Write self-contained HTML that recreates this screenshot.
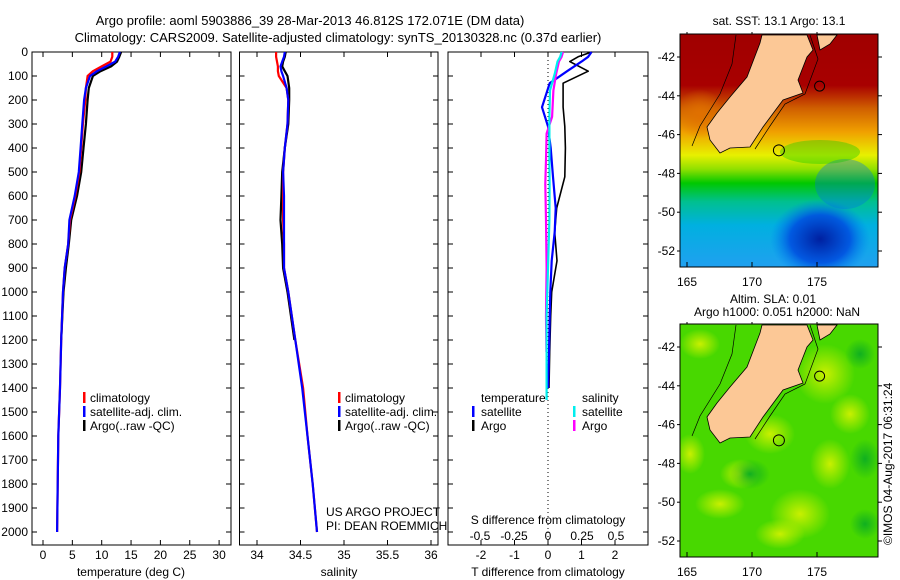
<!DOCTYPE html>
<html><head><meta charset="utf-8"><style>
html,body{margin:0;padding:0;background:#fff;}
svg{display:block;font-family:"Liberation Sans",sans-serif;}
text{font-size:12px;fill:#000;}
</style></head><body>
<svg id="fig" width="900" height="580" viewBox="0 0 900 580">
<defs>
<linearGradient id="sstGrad" x1="0" y1="0" x2="0" y2="1">
<stop offset="0" stop-color="#a00000"/><stop offset="0.22" stop-color="#a80000"/>
<stop offset="0.32" stop-color="#d06000"/><stop offset="0.42" stop-color="#f0a000"/>
<stop offset="0.52" stop-color="#e8f000"/><stop offset="0.58" stop-color="#90e000"/>
<stop offset="0.64" stop-color="#00c800"/><stop offset="0.72" stop-color="#00c090"/>
<stop offset="0.82" stop-color="#00b0e0"/><stop offset="1" stop-color="#20a0f0"/>
</linearGradient>
<radialGradient id="bluePatch"><stop offset="0" stop-color="#0020a0"/><stop offset="0.6" stop-color="#0050e0" stop-opacity="0.9"/><stop offset="1" stop-color="#0080f0" stop-opacity="0"/></radialGradient>
<radialGradient id="yg"><stop offset="0" stop-color="#c8f000"/><stop offset="1" stop-color="#c8f000" stop-opacity="0"/></radialGradient>
<radialGradient id="dg"><stop offset="0" stop-color="#10b020"/><stop offset="1" stop-color="#10b020" stop-opacity="0"/></radialGradient>
<radialGradient id="og"><stop offset="0" stop-color="#e07000"/><stop offset="1" stop-color="#e07000" stop-opacity="0"/></radialGradient>
<clipPath id="mapClip"><rect x="0" y="0" width="198" height="233"/></clipPath>
</defs>
<text x="310" y="25" text-anchor="middle" style="font-size:13px">Argo profile: aoml 5903886_39 28-Mar-2013 46.812S 172.071E (DM data)</text>
<text x="338" y="42" text-anchor="middle" style="font-size:13px">Climatology: CARS2009. Satellite-adjusted climatology: synTS_20130328.nc (0.37d earlier)</text>
<g id="plots"></g>
<g id="maps"></g>
</svg>
<script>
// ---------- data ----------
const depthTicks = [0,100,200,300,400,500,600,700,800,900,1000,1100,1200,1300,1400,1500,1600,1700,1800,1900,2000];
const tempTicks = [0,5,10,15,20,25,30];
const salTicks = [34,34.5,35,35.5,36];
const tdTicks = [-2,-1,0,1,2];
const sdTicks = [-0.5,-0.25,0,0.25,0.5];
const sdTickLabels = ["-0.5","-0.25","0","0.25","0.5"];

const tDepths   = [0,20,40,60,80,100,150,200,300,400,500,600,700,800,900,1000,1200,1400,1600,1800,2000];
const tempClim  = [11.8,11.8,11.5,10.0,8.5,7.6,7.3,7.2,6.8,6.5,6.2,5.5,4.6,4.3,3.7,3.4,3.1,2.9,2.6,2.5,2.4];
const tempSat   = [13.1,12.8,12.3,10.8,9.2,8.0,7.3,7.0,6.7,6.4,6.1,5.4,4.5,4.3,3.7,3.4,3.1,2.9,2.6,2.5,2.4];
const tArgoDepths = [0,20,40,60,80,100,150,200,300,400,500,600,700,800,900,1000,1200];
const tempArgo  = [13.3,13.0,12.6,11.6,9.8,8.5,7.8,7.6,7.3,6.9,6.5,5.8,4.8,4.4,3.9,3.5,3.1];

const salClim   = [34.22,34.22,34.23,34.24,34.24,34.25,34.34,34.36,34.35,34.32,34.30,34.30,34.30,34.31,34.31,34.36,34.44,34.53,34.58,34.64,34.69];
const salSat    = [34.32,34.31,34.29,34.27,34.28,34.30,34.34,34.36,34.35,34.32,34.30,34.31,34.31,34.31,34.31,34.36,34.44,34.52,34.58,34.64,34.69];
const salArgo   = [34.33,34.32,34.30,34.29,34.32,34.35,34.37,34.37,34.36,34.32,34.29,34.28,34.27,34.29,34.30,34.35,34.43];

const dDepths   = [0,20,40,80,130,230,310,400,520,650,750,870,1000,1100,1250,1400];
const tdSat     = [1.3,1.2,1.0,0.57,0.05,-0.18,0.0,0.08,0.15,0.23,0.2,0.11,0.07,0.05,0.03,0.0];
const tdArgo    = [1.3,0.9,0.65,1.2,0.45,0.45,0.5,0.52,0.5,0.26,0.2,0.27,0.11,0.08,0.05,0.03];
const sdDepths  = [0,20,40,90,160,270,340,450,550,700,900,1100,1250,1450];
const sdSat     = [0.1,0.09,0.07,0.05,0.015,0.01,0.01,0.01,0.012,0.01,0.0,-0.01,-0.01,-0.01];
const sdArgo    = [0.11,0.1,0.08,0.06,0.04,0.03,-0.01,-0.015,-0.02,-0.015,-0.01,-0.015,-0.012,null];

// ---------- helpers ----------
const NS="http://www.w3.org/2000/svg";
function mk(tag,attrs,parent){const e=document.createElementNS(NS,tag);for(const k in attrs)e.setAttribute(k,attrs[k]);if(parent)parent.appendChild(e);return e;}
const plots=document.getElementById('plots');
const TOP=52, BOT=545;
const yD = d => 52 + d*0.24;
const xT = t => 43 + t*5.87;
const xS = s => 257 + (s-34)*87;
const xTD = t => 548 + t*33.5;
const xSD = s => 548 + s*136;

function panel(name,x0,x1){
  const g=mk('g',{},plots);
  
  
  const r=mk('rect',{x:x0,y:TOP,width:x1-x0,height:BOT-TOP,fill:'none',stroke:'#000','stroke-width':1},g);
  
  
  return g;
}
function depthTicksOn(g,x0,x1,labels){
  depthTicks.forEach(d=>{
    mk('line',{x1:x0,x2:x0+5,y1:yD(d),y2:yD(d),stroke:'#000'},g);
    mk('line',{x1:x1-5,x2:x1,y1:yD(d),y2:yD(d),stroke:'#000'},g);
    if(labels){const t=mk('text',{x:x0-4,y:yD(d)+4,'text-anchor':'end'},g);t.textContent=d;
      
      }
  });
}
function xTicks(g,vals,fx,labels,ly,top){
  vals.forEach((v,i)=>{
    const x=fx(v);
    mk('line',{x1:x,x2:x,y1:BOT,y2:BOT-5,stroke:'#000'},g);
    if(top) mk('line',{x1:x,x2:x,y1:TOP,y2:TOP+5,stroke:'#000'},g);
    const t=mk('text',{x:x,y:ly,'text-anchor':'middle'},g);t.textContent=labels?labels[i]:v;
    
    
  });
}
function line(g,name,xs,ds,fx,color,w){
  let p='';
  xs.forEach((v,i)=>{ if(v===null) return; p+=(p?'L':'M')+fx(v).toFixed(1)+','+yD(ds[i]).toFixed(1);});
  const e=mk('path',{d:p,fill:'none',stroke:color,'stroke-width':w||2.2,'stroke-linejoin':'round'},g);
  
  
}
function txt(g,name,x,y,s,anchor){
  const t=mk('text',{x:x,y:y,'text-anchor':anchor||'start'},g);t.textContent=s;
  
  
  return t;
}
function legMark(g,x,y,color){
  const r=mk('rect',{x:x,y:y-10,width:2.5,height:11,fill:color},g);
  
  
}

// panel 1: temperature
let g1=panel('temperature-panel',32,231);
depthTicksOn(g1,32,231,true);
xTicks(g1,tempTicks,xT,null,559,true);
txt(g1,'x-axis-title-temperature',131,576,'temperature (deg C)','middle');
line(g1,'temp-argo',tempArgo,tArgoDepths,xT,'#000');
line(g1,'temp-climatology',tempClim,tDepths,xT,'#f00');
line(g1,'temp-satellite-adj',tempSat,tDepths,xT,'#00f');
[['climatology','#f00'],['satellite-adj. clim.','#00f'],['Argo(..raw -QC)','#000']].forEach((l,i)=>{
  legMark(g1,83,402+i*14,l[1]); txt(g1,'legend-entry',90,402+i*14,l[0]);
});

// panel 2: salinity
let g2=panel('salinity-panel',239.5,438);
depthTicksOn(g2,239.5,438,false);
xTicks(g2,salTicks,xS,null,559,true);
txt(g2,'x-axis-title-salinity',339,576,'salinity','middle');
line(g2,'sal-argo',salArgo,tArgoDepths,xS,'#000');
line(g2,'sal-climatology',salClim,tDepths,xS,'#f00');
line(g2,'sal-satellite-adj',salSat,tDepths,xS,'#00f');
[['climatology','#f00'],['satellite-adj. clim.','#00f'],['Argo(..raw -QC)','#000']].forEach((l,i)=>{
  legMark(g2,338,402+i*14,l[1]); txt(g2,'legend-entry',345,402+i*14,l[0]);
});
txt(g2,'credit-project',326,516,'US ARGO PROJECT');
txt(g2,'credit-pi',326,530,'PI: DEAN ROEMMICH');

// panel 3: differences
let g3=panel('difference-panel',448,648);
depthTicksOn(g3,448,648,false);
xTicks(g3,tdTicks,xTD,null,559,true);
sdTicks.forEach((v,i)=>{const t=txt(g3,'s-tick-label',xSD(v),540,sdTickLabels[i],'middle');});
txt(g3,'s-axis-title',548,524,'S difference from climatology','middle');
txt(g3,'x-axis-title-tdiff',548,576,'T difference from climatology','middle');
const zl=mk('line',{x1:548,x2:548,y1:TOP,y2:BOT,stroke:'#000','stroke-dasharray':'1,3'},g3);


line(g3,'tdiff-argo',tdArgo,dDepths,xTD,'#000',1.6);
line(g3,'tdiff-satellite',tdSat,dDepths,xTD,'#00f',2.2);
line(g3,'sdiff-argo',sdArgo,sdDepths,xSD,'#f0f',2.2);
line(g3,'sdiff-satellite',sdSat,sdDepths,xSD,'#0ee',2.2);
txt(g3,'legend-title-temperature',481,402,'temperature');
txt(g3,'legend-title-salinity',582,402,'salinity');
legMark(g3,472,416,'#00f'); txt(g3,'legend-entry',481,416,'satellite');
legMark(g3,472,430,'#000'); txt(g3,'legend-entry',481,430,'Argo');
legMark(g3,573,416,'#0ee'); txt(g3,'legend-entry',582,416,'satellite');
legMark(g3,573,430,'#f0f'); txt(g3,'legend-entry',582,430,'Argo');

// ---------- maps ----------
const maps=document.getElementById('maps');
const lonTicks=[165,170,175], latTicks=[-42,-44,-46,-48,-50,-52];
const mx = lon => 7 + (lon-165)*13;
const my = lat => 23 + (-42-lat)*19.4;
const landPts="82,1 100,1 127,1 133,16 127,23 118,46 123,59 103,66 83,93 70,113 50,114 40,119 30,106 27,93 37,79 50,63 67,43 80,9";
const niPts="137,1 157,1 150,10 140,16";
const coastPts="56,1 52,30 40,60 20,92 12,112 M130,1 138,25 125,60 105,70 90,92 75,115";
function map(oy,name,kind){
  const g=mk('g',{transform:'translate(680,'+oy+')'},maps);
  
  
  const c=mk('g',{'clip-path':'url(#mapClip)'},g);
  if(kind==='sst'){
    mk('rect',{x:0,y:0,width:198,height:233,fill:'url(#sstGrad)'},c);
    mk('ellipse',{cx:20,cy:80,rx:25,ry:25,fill:'url(#og)'},c);
    mk('ellipse',{cx:140,cy:205,rx:50,ry:40,fill:'url(#bluePatch)'},c);
    mk('ellipse',{cx:165,cy:150,rx:30,ry:25,fill:'#0070e8',opacity:0.35},c);
    mk('ellipse',{cx:140,cy:118,rx:40,ry:12,fill:'#00c800',opacity:0.35},c);
  } else {
    mk('rect',{x:0,y:0,width:198,height:233,fill:'#48d800'},c);
    [[145,50,30,30],[90,110,25,20],[120,190,30,25],[40,180,25,15],[170,90,20,20],[10,130,15,20],[60,150,20,15],[150,140,20,25],[20,20,20,15],[100,210,25,15]].forEach(p=>mk('ellipse',{cx:p[0],cy:p[1],rx:p[2],ry:p[3],fill:'url(#yg)'},c));
    [[185,135,15,20],[70,150,20,15],[180,30,15,15],[185,200,15,15]].forEach(p=>mk('ellipse',{cx:p[0],cy:p[1],rx:p[2],ry:p[3],fill:'url(#dg)'},c));
  }
  mk('path',{d:'M'+coastPts,fill:'none',stroke:'#000','stroke-width':0.7},c);
  const land=mk('polygon',{points:landPts,fill:'#fcc896',stroke:'#000','stroke-width':0.8},c);
  
  
  mk('polygon',{points:niPts,fill:'#fcc896',stroke:'#000','stroke-width':0.8},c);
  mk('circle',{cx:mx(175.2),cy:my(-43.5),r:5,fill:'none',stroke:'#000'},c);
  const pos=mk('circle',{cx:mx(172.07),cy:my(-46.81),r:5.5,fill:'none',stroke:'#000'},c);
  
  
  mk('rect',{x:0,y:0,width:198,height:233,fill:'none',stroke:'#000'},g);
  lonTicks.forEach(l=>{mk('line',{x1:mx(l),x2:mx(l),y1:233,y2:228,stroke:'#000'},g);mk('line',{x1:mx(l),x2:mx(l),y1:0,y2:-2,stroke:'#000'},g);
    const t=mk('text',{x:mx(l),y:252,'text-anchor':'middle'},g);t.textContent=l;
    
    });
  latTicks.forEach(l=>{mk('line',{x1:-3,x2:0,y1:my(l),y2:my(l),stroke:'#000'},g);mk('line',{x1:198,x2:202,y1:my(l),y2:my(l),stroke:'#000'},g);
    const t=mk('text',{x:-5,y:my(l)+4,'text-anchor':'end'},g);t.textContent=l;
    
    });
  return g;
}
const m1=map(34,'sst-map','sst');
const m2=map(324,'sla-map','sla');
txt(maps,'sst-map-title',779,25,'sat. SST: 13.1 Argo: 13.1','middle');
txt(maps,'sla-map-title-1',773,303,'Altim. SLA: 0.01','middle');
txt(maps,'sla-map-title-2',777,316,'Argo h1000: 0.051 h2000: NaN','middle');
const ts=txt(maps,'timestamp',892,545,'©IMOS 04-Aug-2017 06:31:24');
ts.setAttribute('transform','rotate(-90 892 545)');
</script>
</body></html>
